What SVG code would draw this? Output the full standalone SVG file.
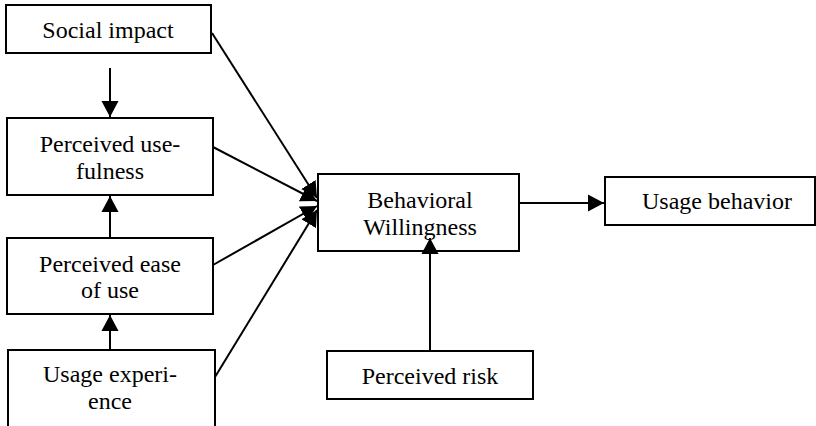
<svg xmlns="http://www.w3.org/2000/svg" width="816" height="426" viewBox="0 0 816 426">
<style>
.box{fill:#fff;stroke:#000;stroke-width:2}
text{font-family:'Liberation Serif','Times New Roman',serif;font-size:24px;fill:#000;text-anchor:middle}
.c{stroke:#000;stroke-width:2;fill:none;marker-end:url(#ah)}
</style>
<defs>
<marker id="ah" markerUnits="userSpaceOnUse" markerWidth="16" markerHeight="18" viewBox="0 0 15 16" refX="15" refY="8" orient="auto">
<path d="M0,0 L15,8 L0,16 Z" fill="#000"/>
</marker>
</defs>
<rect width="816" height="426" fill="#fff"/>
<g id="social-impact">
<rect class="box" x="6" y="5" width="205" height="48"/>
<text x="108" y="38">Social impact</text>
</g>
<g id="perceived-usefulness">
<rect class="box" x="7" y="118" width="206" height="77"/>
<text x="110" y="152">Perceived use-</text>
<text x="110" y="179">fulness</text>
</g>
<g id="perceived-ease-of-use">
<rect class="box" x="7" y="238" width="206" height="76"/>
<text x="110" y="272">Perceived ease</text>
<text x="110" y="298">of use</text>
</g>
<g id="usage-experience">
<rect class="box" x="8" y="350" width="207" height="90"/>
<text x="110" y="382">Usage experi-</text>
<text x="110" y="409">ence</text>
</g>
<g id="behavioral-willingness">
<rect class="box" x="318" y="174" width="201" height="77"/>
<text x="420" y="208">Behavioral</text>
<text x="420" y="235">Willingness</text>
</g>
<g id="usage-behavior">
<rect class="box" x="605" y="177" width="210" height="48"/>
<text x="717" y="209">Usage behavior</text>
</g>
<g id="perceived-risk">
<rect class="box" x="327" y="351" width="206" height="48"/>
<text x="430" y="384">Perceived risk</text>
</g>
<g id="connectors">
<line class="c" x1="110" y1="68" x2="110" y2="117"/>
<line class="c" x1="110" y1="238" x2="110" y2="196"/>
<line class="c" x1="110" y1="350" x2="110" y2="315"/>
<line class="c" x1="212" y1="33" x2="317" y2="198"/>
<line class="c" x1="213" y1="147" x2="317" y2="201"/>
<line class="c" x1="213" y1="265" x2="317" y2="206"/>
<line class="c" x1="215" y1="377" x2="317" y2="210"/>
<line class="c" x1="519" y1="203" x2="604" y2="203"/>
<line class="c" x1="430" y1="350" x2="430" y2="238"/>
</g>
</svg>
